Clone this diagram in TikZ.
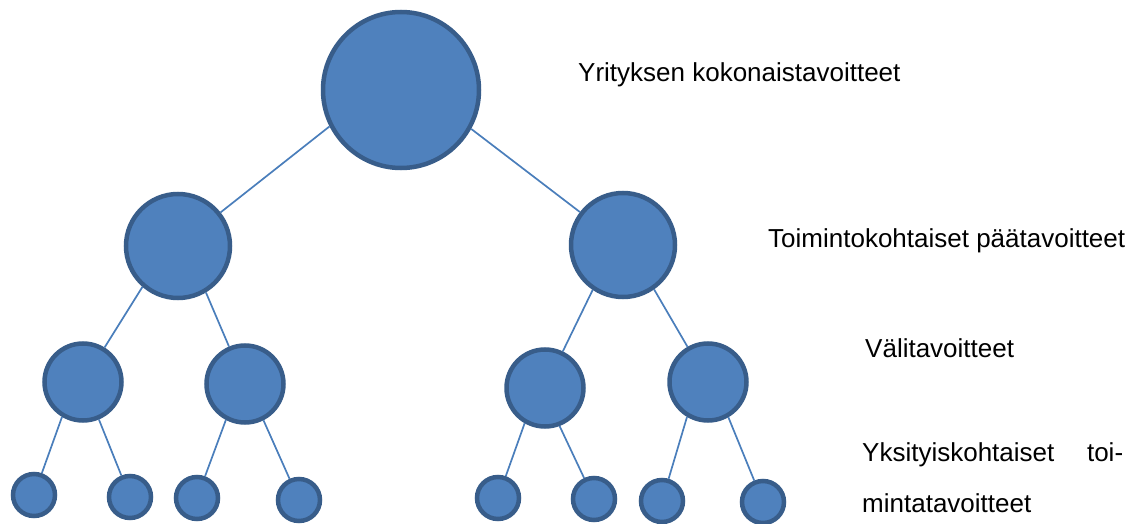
\documentclass[tikz,border=0pt]{standalone}
\usepackage{fontspec}
\setmainfont{Liberation Sans}
\definecolor{fillblue}{HTML}{4F81BD}
\definecolor{ringblue}{HTML}{385D8A}
\definecolor{lineblue}{HTML}{4A7EBB}
\begin{document}
\begin{tikzpicture}[x=1pt,y=-1pt,
  goal/.style={circle, draw=ringblue, fill=fillblue, line width=4.5pt, inner sep=0pt},
  big/.style={goal, minimum size=156pt},
  mid/.style={goal, minimum size=104pt},
  sml/.style={goal, minimum size=77pt},
  tiny/.style={goal, minimum size=42pt},
  link/.style={draw=lineblue, line width=1.7pt},
  lab/.style={anchor=base west, inner sep=0pt, font=\fontsize{26}{51}\selectfont}]
\useasboundingbox (0,0) rectangle (1141,524);
% nodes
\node[big] (top) at (401,90) {};
\node[mid] (L) at (178,246) {};
\node[mid] (R) at (623,245) {};
\node[sml] (LL) at (83,382) {};
\node[sml] (LR) at (245,384) {};
\node[sml] (RL) at (545,388) {};
\node[sml] (RR) at (708,382) {};
\node[tiny] (a) at (34,495) {};
\node[tiny] (b) at (130,497) {};
\node[tiny] (c) at (197,498) {};
\node[tiny] (d) at (299,500) {};
\node[tiny] (e) at (498,498) {};
\node[tiny] (f) at (594,499) {};
\node[tiny] (g) at (662,501) {};
\node[tiny] (h) at (763,502) {};
% connectors
\draw[link] (top.207) -- (L);
\draw[link] (top.331) -- (R);
\draw[link] (L.229) -- (LL);
\draw[link] (L.301) -- (LR);
\draw[link] (R.236) -- (RL);
\draw[link] (R.305) -- (RR);
\draw[link] (LL.239) -- (a);
\draw[link] (LL.293) -- (b);
\draw[link] (LR.242) -- (c);
\draw[link] (LR.297) -- (d);
\draw[link] (RL.240) -- (e);
\draw[link] (RL.291) -- (f);
\draw[link] (RR.239) -- (g);
\draw[link] (RR.300) -- (h);
% labels
\node[lab] (t1) at (578,82) {Yrityksen kokonaistavoitteet};
\node[lab] (t2) at (768,247) {Toimintokohtaiset päätavoitteet};
\node[lab] (t3) at (865,357) {Välitavoitteet};
\node[lab, align=left] (t4) at (862,512) {\hbox to 261pt{Yksityiskohtaiset\hfill toi-}\\mintatavoitteet};
\end{tikzpicture}
\end{document}
